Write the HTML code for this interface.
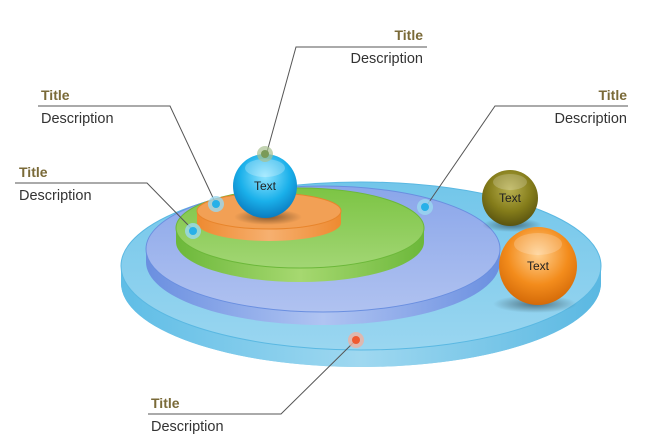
<!DOCTYPE html>
<html><head><meta charset="utf-8"><style>
html,body{margin:0;padding:0;background:#fff;}
svg{display:block;}
text{font-family:"Liberation Sans",sans-serif;}
.t{font-weight:bold;font-size:14px;fill:#7a6a38;}
.d{font-size:14.5px;fill:#333;}
.s{font-size:12px;fill:#222;}
</style></head><body>
<svg width="650" height="448" viewBox="0 0 650 448" xmlns="http://www.w3.org/2000/svg">
<defs>
<linearGradient id="sideB" x1="0" x2="1"><stop offset="0" stop-color="#5fbde6"/><stop offset=".5" stop-color="#9fd8f0"/><stop offset="1" stop-color="#5ab8e2"/></linearGradient>
<linearGradient id="topB" x1="0" y1="0" x2="0" y2="1"><stop offset="0" stop-color="#72c6ea"/><stop offset="1" stop-color="#9ad6f0"/></linearGradient>
<linearGradient id="sideP" x1="0" x2="1"><stop offset="0" stop-color="#6a8fe0"/><stop offset=".5" stop-color="#b0c4f2"/><stop offset="1" stop-color="#6a8fe0"/></linearGradient>
<linearGradient id="topP" x1="0" y1="0" x2="0" y2="1"><stop offset="0" stop-color="#8aa6ea"/><stop offset="1" stop-color="#b0c2f0"/></linearGradient>
<linearGradient id="sideG" x1="0" x2="1"><stop offset="0" stop-color="#6cb83a"/><stop offset=".5" stop-color="#a6d870"/><stop offset="1" stop-color="#6cb83a"/></linearGradient>
<linearGradient id="topG" x1="0" y1="0" x2="0" y2="1"><stop offset="0" stop-color="#7cc444"/><stop offset="1" stop-color="#a2d674"/></linearGradient>
<linearGradient id="sideO" x1="0" x2="1"><stop offset="0" stop-color="#ee8a30"/><stop offset=".5" stop-color="#f6b070"/><stop offset="1" stop-color="#ee8a30"/></linearGradient>
<radialGradient id="sphB" cx=".5" cy=".35" r=".65"><stop offset="0" stop-color="#8fe4ff"/><stop offset=".6" stop-color="#1ab0ea"/><stop offset="1" stop-color="#0a7cc0"/></radialGradient>
<radialGradient id="sphY" cx=".5" cy=".35" r=".65"><stop offset="0" stop-color="#b8b050"/><stop offset=".6" stop-color="#847c1a"/><stop offset="1" stop-color="#5a5410"/></radialGradient>
<radialGradient id="sphO" cx=".5" cy=".35" r=".65"><stop offset="0" stop-color="#ffd090"/><stop offset=".6" stop-color="#f38c1c"/><stop offset="1" stop-color="#d46a08"/></radialGradient>
<radialGradient id="sh"><stop offset="0" stop-color="#000" stop-opacity=".45"/><stop offset="1" stop-color="#000" stop-opacity="0"/></radialGradient>
</defs>
<path d="M121 266 A240 84 0 0 0 601 266 L601 283 A240 84 0 0 1 121 283 Z" fill="url(#sideB)"/>
<ellipse cx="361" cy="283" rx="240" ry="84" fill="url(#sideB)"/>
<ellipse cx="361" cy="266" rx="240" ry="84" fill="url(#topB)" stroke="#5ab8e2" stroke-width="1"/>
<ellipse cx="323" cy="262" rx="177" ry="63" fill="url(#sideP)"/>
<rect x="146" y="249" width="354" height="13" fill="url(#sideP)"/>
<ellipse cx="323" cy="249" rx="177" ry="63" fill="url(#topP)" stroke="#6a8fe0"/>
<ellipse cx="300" cy="242" rx="124" ry="40" fill="url(#sideG)"/>
<rect x="176" y="228" width="248" height="14" fill="url(#sideG)"/>
<ellipse cx="300" cy="228" rx="124" ry="40" fill="url(#topG)" stroke="#6cb83a"/>
<ellipse cx="269" cy="223" rx="72" ry="18" fill="url(#sideO)"/>
<rect x="197" y="211" width="144" height="12" fill="url(#sideO)"/>
<ellipse cx="269" cy="211" rx="72" ry="18" fill="#f2a055" stroke="#e8852c"/>
<ellipse cx="268" cy="217" rx="34" ry="8" fill="url(#sh)"/>
<circle cx="265" cy="186" r="32" fill="url(#sphB)"/>
<ellipse cx="265" cy="168" rx="20" ry="9" fill="#fff" opacity=".25"/>
<text x="265" y="190" class="s" text-anchor="middle">Text</text>
<ellipse cx="512" cy="225" rx="30" ry="7" fill="url(#sh)"/>
<circle cx="510" cy="198" r="28" fill="url(#sphY)"/>
<ellipse cx="510" cy="182" rx="17" ry="8" fill="#fff" opacity=".2"/>
<text x="510" y="202" class="s" text-anchor="middle">Text</text>
<ellipse cx="535" cy="304" rx="42" ry="9" fill="url(#sh)"/>
<circle cx="538" cy="266" r="39" fill="url(#sphO)"/>
<ellipse cx="538" cy="244" rx="24" ry="11" fill="#fff" opacity=".2"/>
<text x="538" y="270" class="s" text-anchor="middle">Text</text>
<g stroke="#555" stroke-width="1" fill="none">
<polyline points="427,47 296,47 267,152"/>
<polyline points="38,106 170,106 215,202"/>
<polyline points="15,183 147,183 192,229"/>
<polyline points="628,106 495,106 427,205"/>
<polyline points="148,414 281,414 355,341"/>
</g>
<g>
<circle cx="265" cy="154" r="8" fill="#a8c090" opacity=".7"/><circle cx="265" cy="154" r="4" fill="#7a9a58"/>
<circle cx="216" cy="204" r="8" fill="#9ad8f0" opacity=".8"/><circle cx="216" cy="204" r="4" fill="#28b0e8"/>
<circle cx="193" cy="231" r="8" fill="#9ad8f0" opacity=".8"/><circle cx="193" cy="231" r="4" fill="#28b0e8"/>
<circle cx="425" cy="207" r="8" fill="#9ad8f0" opacity=".8"/><circle cx="425" cy="207" r="4" fill="#28b0e8"/>
<circle cx="356" cy="340" r="8" fill="#f0b0a0" opacity=".8"/><circle cx="356" cy="340" r="4" fill="#f05a30"/>
</g>
<text x="423" y="40" class="t" text-anchor="end">Title</text>
<text x="423" y="63" class="d" text-anchor="end">Description</text>
<text x="41" y="100" class="t">Title</text>
<text x="41" y="123" class="d">Description</text>
<text x="19" y="177" class="t">Title</text>
<text x="19" y="200" class="d">Description</text>
<text x="627" y="100" class="t" text-anchor="end">Title</text>
<text x="627" y="123" class="d" text-anchor="end">Description</text>
<text x="151" y="408" class="t">Title</text>
<text x="151" y="431" class="d">Description</text>
</svg>
</body></html>
